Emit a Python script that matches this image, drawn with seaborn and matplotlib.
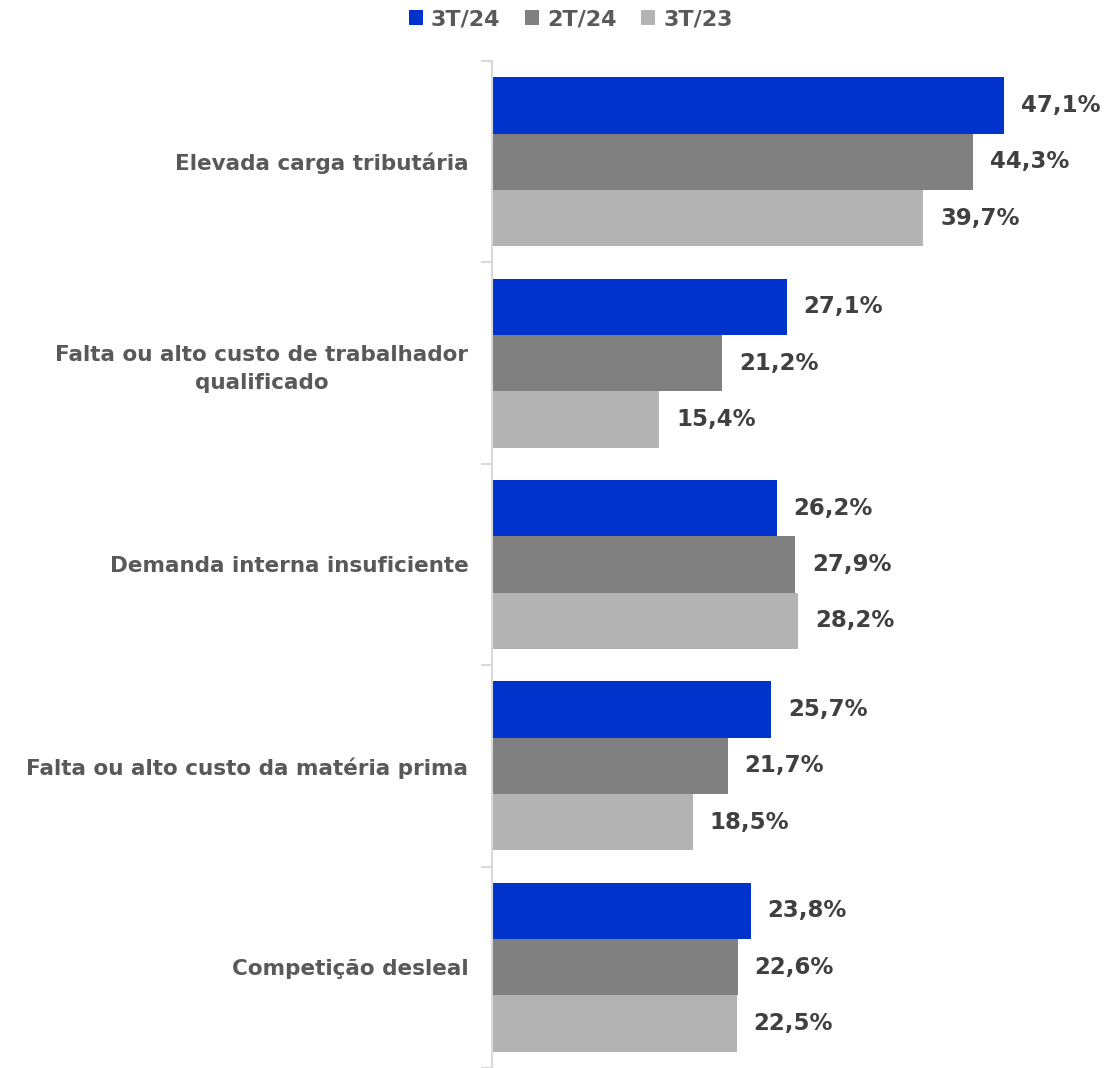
import numpy as np
import pandas as pd
import seaborn as sns
import matplotlib.pyplot as plt
from matplotlib.ticker import FixedLocator, NullLocator

# data
categories = [
    'Elevada carga tributária',
    'Falta ou alto custo de trabalhador\nqualificado',
    'Demanda interna insuficiente',
    'Falta ou alto custo da matéria prima',
    'Competição desleal',
]
periods = ['3T/24', '2T/24', '3T/23']
values_3t24 = [47.1, 27.1, 26.2, 25.7, 23.8]
values_2t24 = [44.3, 21.2, 27.9, 21.7, 22.6]
values_3t23 = [39.7, 15.4, 28.2, 18.5, 22.5]
colors = ['#0033CC', '#808080', '#B3B3B3']

label_color = '#595959'
value_color = '#404040'
axis_color = '#D9D9D9'

df = pd.DataFrame({
    'categoria': categories * 3,
    'periodo': [p for p in periods for _ in categories],
    'valor': values_3t24 + values_2t24 + values_3t23,
})

sns.set_style('white')
plt.rcParams['font.family'] = ['DejaVu Sans']

fig = plt.figure(figsize=(11.06, 10.68), dpi=100)
ax = fig.add_axes([492 / 1106, 0.0, 614 / 1106, 1 - 61 / 1068])

sns.barplot(data=df, y='categoria', x='valor', hue='periodo',
            order=categories, hue_order=periods, palette=colors,
            orient='h', width=0.84, saturation=1, linewidth=0, ax=ax)

ax.set_xlim(0, 56.5)
ax.set_ylim(len(categories) - 0.5, -0.5)

for container in ax.containers:
    labels = [f'{v:.1f}%'.replace('.', ',') for v in container.datavalues]
    ax.bar_label(container, labels=labels, padding=12, fontsize=16.5,
                 fontweight='bold', color=value_color)

# excel-like axis: only the left spine with ticks at group boundaries
for side in ('top', 'right', 'bottom'):
    ax.spines[side].set_visible(False)
ax.spines['left'].set_color(axis_color)
ax.spines['left'].set_linewidth(1.5)
ax.xaxis.set_major_locator(NullLocator())
ax.set_xlabel('')
ax.set_ylabel('')
ax.tick_params(axis='y', which='major', left=False, length=0, pad=17,
               labelsize=15.5, labelcolor=label_color)
for lbl in ax.get_yticklabels():
    lbl.set_fontweight('bold')
    lbl.set_horizontalalignment('right')
    lbl.set_multialignment('center')
    lbl.set_linespacing(1.5)
ax.yaxis.set_minor_locator(FixedLocator(np.arange(-0.5, len(categories), 1.0)))
ax.tick_params(axis='y', which='minor', left=True, length=8, width=1.5,
               color=axis_color)

sns.move_legend(ax, 'upper center', bbox_to_anchor=(0.516, 1.01),
                bbox_transform=fig.transFigure, ncol=3, frameon=False,
                title=None, prop={'size': 16, 'weight': 'bold'},
                handlelength=0.65, handleheight=0.65,
                handletextpad=0.35, columnspacing=1.1)
for t in ax.get_legend().get_texts():
    t.set_color(label_color)

fig.savefig('out.png', dpi=100)
